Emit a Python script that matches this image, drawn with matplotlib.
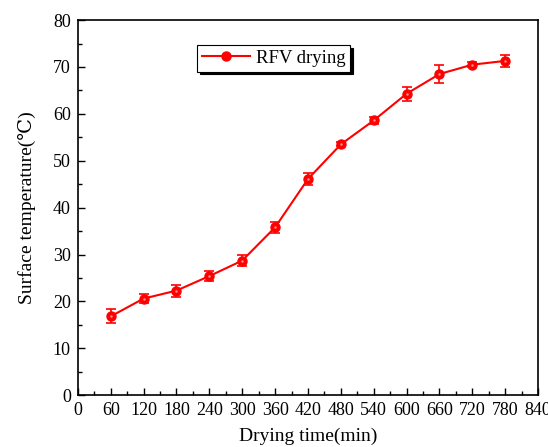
import matplotlib.pyplot as plt
from matplotlib.lines import Line2D
from matplotlib.ticker import MultipleLocator

# Drying time (min) vs surface temperature (degC)
time_min = [60, 120, 180, 240, 300, 360, 420, 480, 540, 600, 660, 720, 780]
temp_c = [16.8, 20.6, 22.3, 25.4, 28.7, 35.8, 46.1, 53.5, 58.6, 64.3, 68.5, 70.5, 71.3]
temp_err = [1.5, 1.0, 1.3, 1.1, 1.1, 1.2, 1.2, 0.4, 0.8, 1.5, 2.0, 0.5, 1.2]

plt.rcParams['font.family'] = ['Liberation Serif', 'DejaVu Serif']

fig = plt.figure(figsize=(5.48, 4.47), dpi=100)
ax = fig.add_axes([0.142, 0.116, 0.84, 0.839])

ax.errorbar(time_min, temp_c, yerr=temp_err, color='red', lw=1.5,
            marker='o', ms=6.5, mfc='red', mec='red',
            elinewidth=1.2, capsize=3.5, capthick=1.2)
# small highlight in marker centres
ax.plot(time_min, temp_c, 'o', ms=1.8, color='#ff8c8c', mew=0, zorder=5)

ax.set_xlim(0, 840)
ax.set_ylim(0, 80)
ax.xaxis.set_major_locator(MultipleLocator(60))
ax.xaxis.set_minor_locator(MultipleLocator(30))
ax.yaxis.set_major_locator(MultipleLocator(10))
ax.yaxis.set_minor_locator(MultipleLocator(5))
ax.tick_params(which='both', direction='in', labelsize=13, width=1)
ax.tick_params(which='major', length=5, pad=5)
ax.tick_params(which='minor', length=3)
for s in ax.spines.values():
    s.set_linewidth(1.2)

ax.set_xlabel('Drying time(min)', fontsize=14, labelpad=6)
ax.set_ylabel('Surface temperature(\u2103)', fontsize=14, labelpad=12)

handle = Line2D([], [], color='red', lw=1.5, marker='o', ms=6.5)
leg = ax.legend([handle], ['RFV drying'], loc='upper left',
                bbox_to_anchor=(197 / 548, 1 - 45 / 447),
                bbox_transform=fig.transFigure, fontsize=13.5, fancybox=False,
                shadow={'color': 'black', 'alpha': 1}, edgecolor='black',
                framealpha=1, borderpad=0.25, handlelength=2.6,
                handletextpad=0.3, borderaxespad=0)
leg.get_frame().set_linewidth(0.8)

fig.savefig('out.png', dpi=100)
